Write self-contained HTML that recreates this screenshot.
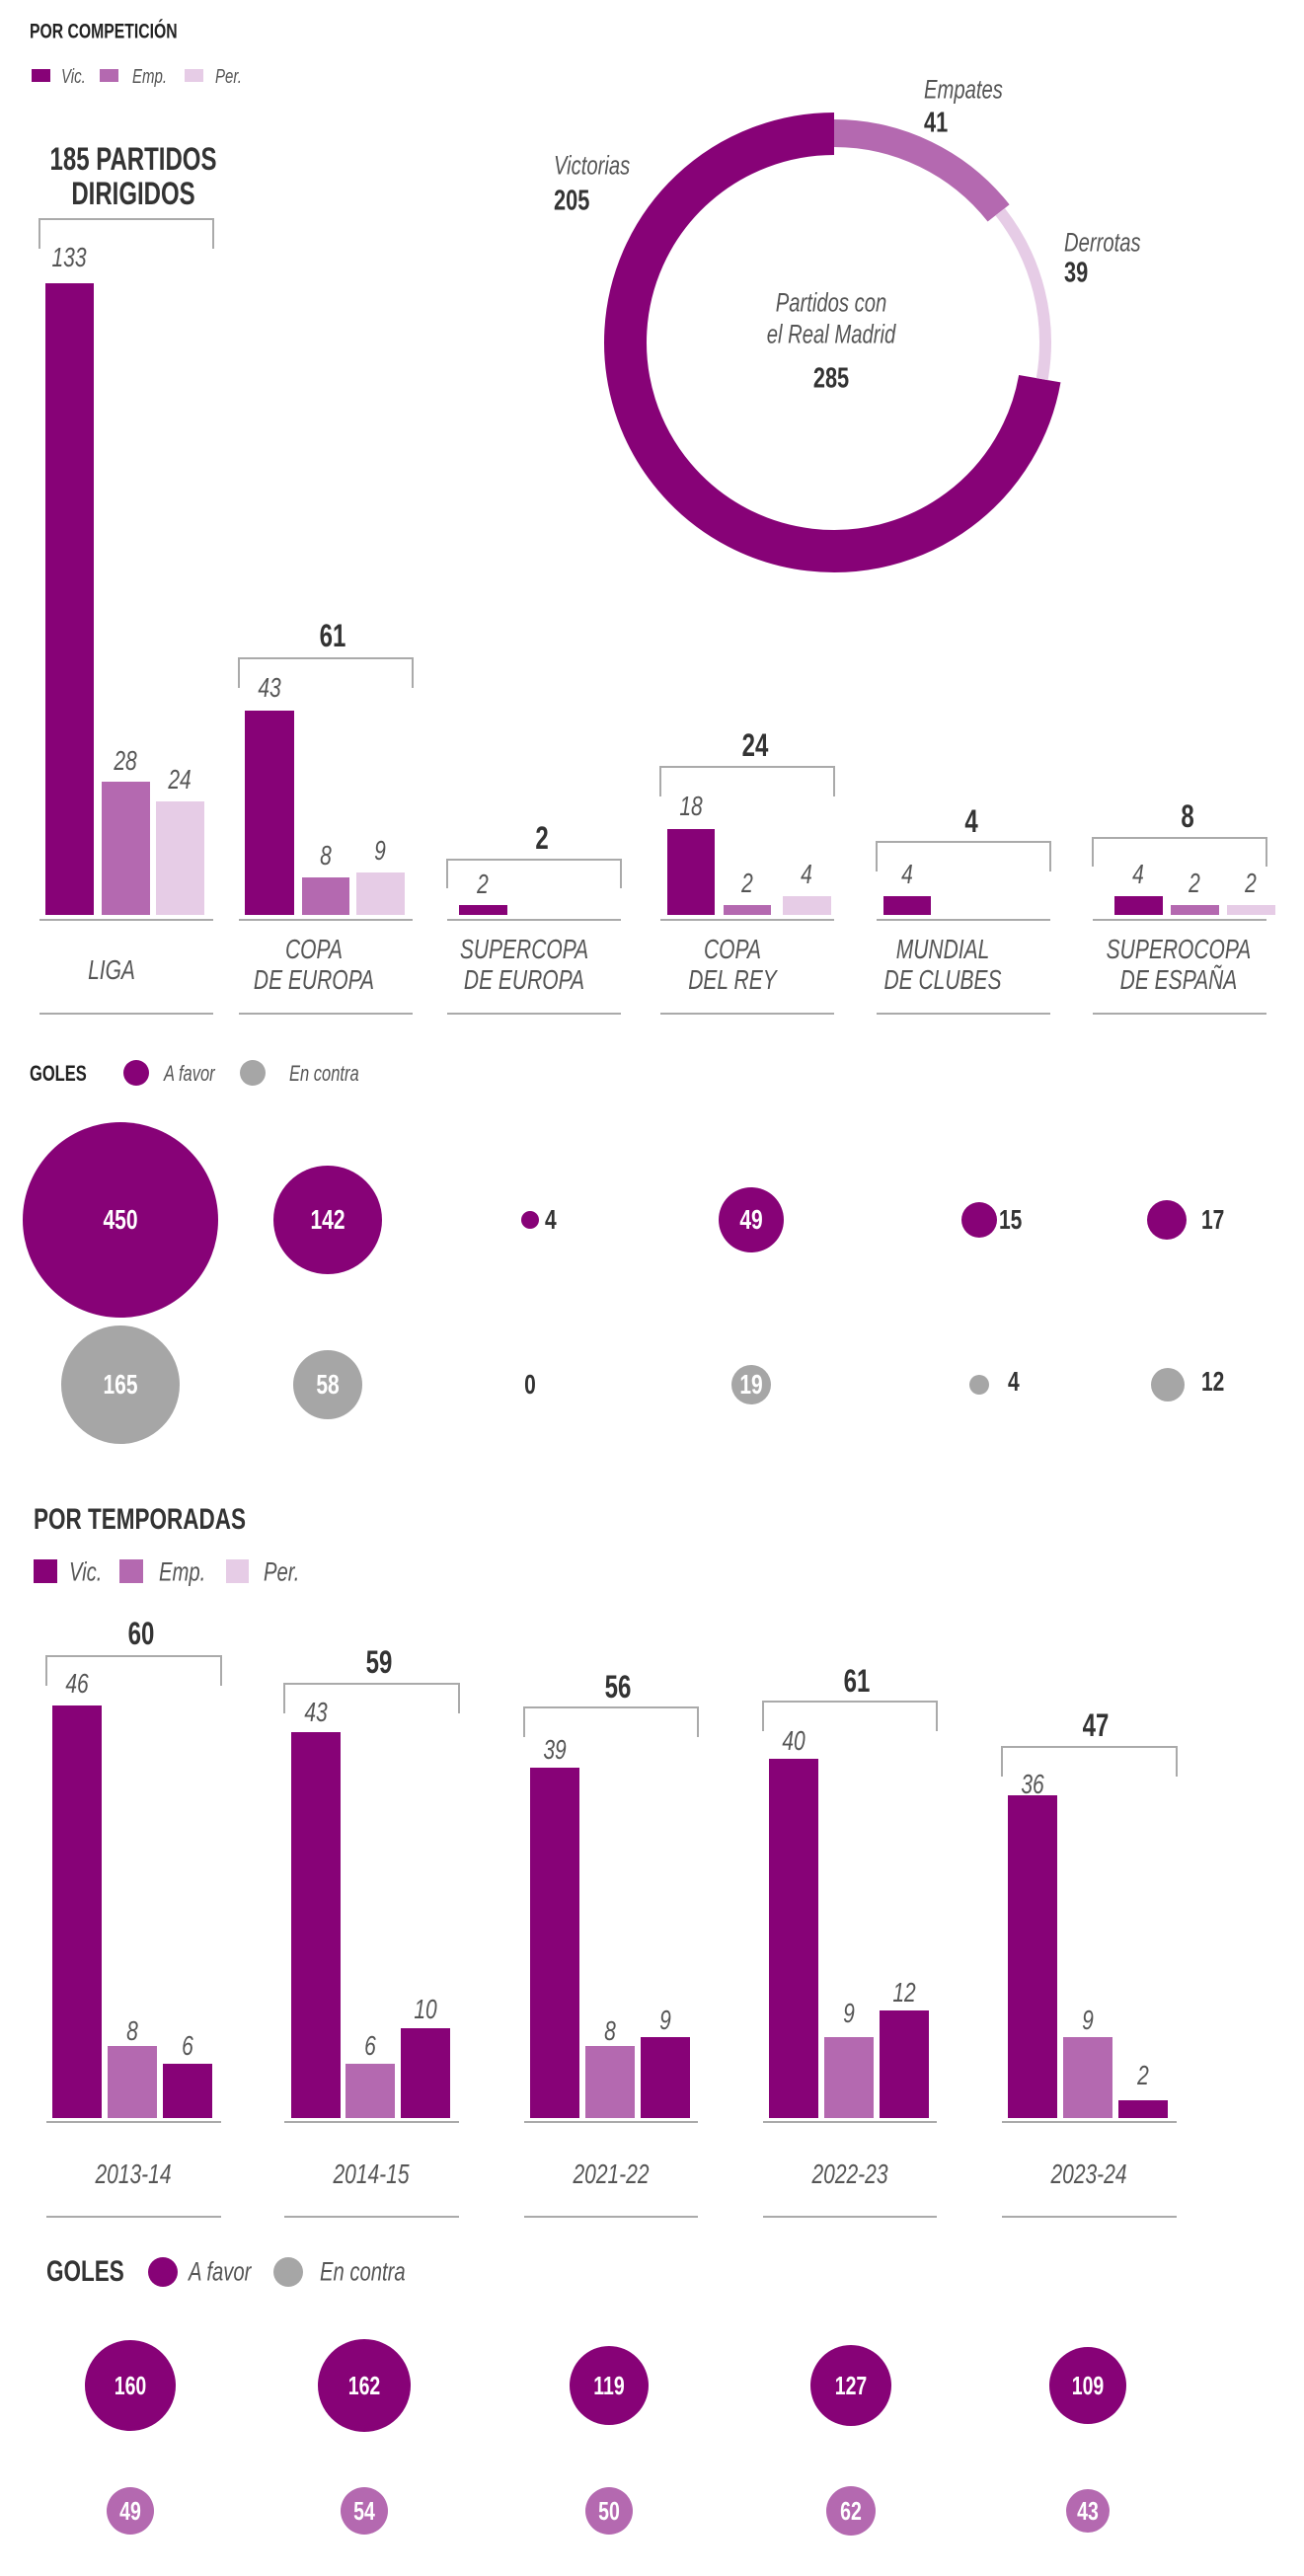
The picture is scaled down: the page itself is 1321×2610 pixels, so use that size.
<!DOCTYPE html>
<html><head><meta charset="utf-8"><style>
body{margin:0;background:#fff}
#w{position:relative;width:1321px;height:2610px;overflow:hidden;background:#fff}
svg{position:absolute;left:0;top:0}
.t{position:absolute;white-space:nowrap;font-family:"Liberation Sans",sans-serif;line-height:1;color:#555}
.c{width:400px;margin-left:-200px;text-align:center;transform:translateY(-50%) scaleX(.75)}
.l{transform-origin:0 50%;transform:translateY(-50%) scaleX(.75)}
.i{font-style:italic}
.b{font-weight:bold;color:#333}
.w{color:#fff;font-weight:bold}
</style></head><body><div id="w">
<svg width="1321" height="2610" viewBox="0 0 1321 2610">
<g fill="none" stroke="#aaa" stroke-width="2">
<!-- top brackets -->
<path d="M40 252V222H216V252"/><path d="M242 697V667H418V697"/><path d="M453 900V871H629V900"/>
<path d="M669 807V777H845V807"/><path d="M888 883V853H1064V883"/><path d="M1107 878V849H1283V878"/>
<path d="M40 932H216M242 932H418M453 932H629M669 932H845M888 932H1064M1107 932H1283"/>
<path d="M40 1027H216M242 1027H418M453 1027H629M669 1027H845M888 1027H1064M1107 1027H1283"/>
<!-- bottom brackets -->
<path d="M47 1708V1678H224V1708"/><path d="M288 1736V1706H465V1736"/><path d="M531 1760V1730H707V1760"/>
<path d="M773 1754V1724H949V1754"/><path d="M1015 1800V1770H1192V1800"/>
<path d="M47 2150H224M288 2150H465M531 2150H707M773 2150H949M1015 2150H1192"/>
<path d="M47 2246H224M288 2246H465M531 2246H707M773 2246H949M1015 2246H1192"/>
</g>
<!-- legend top -->
<rect x="32" y="70" width="19" height="13" fill="#870277"/><rect x="101" y="70" width="19" height="13" fill="#b469b0"/><rect x="187" y="70" width="19" height="13" fill="#e6cce6"/>
<!-- top bars -->
<g fill="#870277"><rect x="46" y="287" width="49" height="640"/><rect x="248" y="720" width="50" height="207"/><rect x="465" y="917" width="49" height="10"/>
<rect x="676" y="840" width="48" height="87"/><rect x="895" y="908" width="48" height="19"/><rect x="1129" y="908" width="49" height="19"/></g>
<g fill="#b469b0"><rect x="103" y="792" width="49" height="135"/><rect x="306" y="889" width="48" height="38"/><rect x="733" y="917" width="48" height="10"/><rect x="1186" y="917" width="49" height="10"/></g>
<g fill="#e6cce6"><rect x="158" y="812" width="49" height="115"/><rect x="361" y="884" width="49" height="43"/><rect x="793" y="908" width="49" height="19"/><rect x="1243" y="917" width="49" height="10"/></g>
<!-- donut -->
<g fill="none">
<path d="M1053.3 383.7A211.5 211.5 0 1 1 845 135.5" stroke="#870277" stroke-width="43"/>
<path d="M845 135A212 212 0 0 1 1011.6 215.9" stroke="#b469b0" stroke-width="28"/>
<path d="M1013.2 214.7A214 214 0 0 1 1055.7 384.2" stroke="#e6cce6" stroke-width="12"/>
</g>
<!-- goles top -->
<circle cx="138" cy="1087" r="13" fill="#870277"/><circle cx="256" cy="1087" r="13" fill="#a6a6a6"/>
<g fill="#870277"><circle cx="122" cy="1236" r="99"/><circle cx="332" cy="1236" r="55"/><circle cx="537" cy="1236" r="9"/><circle cx="761" cy="1236" r="33"/><circle cx="992" cy="1236" r="18"/><circle cx="1182" cy="1236" r="20"/></g>
<g fill="#a6a6a6"><circle cx="122" cy="1403" r="60"/><circle cx="332" cy="1403" r="35"/><circle cx="761" cy="1403" r="20"/><circle cx="992" cy="1403" r="10"/><circle cx="1183" cy="1403" r="17"/></g>
<!-- legend bottom -->
<rect x="34" y="1580" width="24" height="24" fill="#870277"/><rect x="121" y="1580" width="24" height="24" fill="#b469b0"/><rect x="229" y="1580" width="23" height="24" fill="#e6cce6"/>
<!-- bottom bars -->
<g fill="#870277">
<rect x="53" y="1728" width="50" height="418"/><rect x="165" y="2091" width="50" height="55"/>
<rect x="295" y="1755" width="50" height="391"/><rect x="406" y="2055" width="50" height="91"/>
<rect x="537" y="1791" width="50" height="355"/><rect x="649" y="2064" width="50" height="82"/>
<rect x="779" y="1782" width="50" height="364"/><rect x="891" y="2037" width="50" height="109"/>
<rect x="1021" y="1819" width="50" height="327"/><rect x="1133" y="2128" width="50" height="18"/>
</g>
<g fill="#b469b0">
<rect x="109" y="2073" width="50" height="73"/><rect x="350" y="2091" width="50" height="55"/><rect x="593" y="2073" width="50" height="73"/><rect x="835" y="2064" width="50" height="82"/><rect x="1077" y="2064" width="50" height="82"/>
</g>
<circle cx="165" cy="2302" r="15" fill="#870277"/><circle cx="292" cy="2302" r="15" fill="#a6a6a6"/>
<g fill="#870277"><circle cx="132" cy="2417" r="46"/><circle cx="369" cy="2417" r="47"/><circle cx="617" cy="2417" r="40"/><circle cx="862" cy="2417" r="41"/><circle cx="1102" cy="2417" r="39"/></g>
<g fill="#b469b0"><circle cx="132" cy="2544" r="24"/><circle cx="369" cy="2544" r="24"/><circle cx="617" cy="2544" r="24"/><circle cx="862" cy="2544" r="25"/><circle cx="1102" cy="2544" r="22"/></g>
</svg>

<!-- top texts -->
<div class="t l b" style="left:30px;top:32px;font-size:21px;color:#222">POR COMPETICIÓN</div>
<div class="t l i" style="left:62px;top:78px;font-size:20px">Vic.</div>
<div class="t l i" style="left:134px;top:78px;font-size:20px">Emp.</div>
<div class="t l i" style="left:218px;top:78px;font-size:20px">Per.</div>
<div class="t c b" style="left:135px;top:161px;font-size:32px">185 PARTIDOS</div>
<div class="t c b" style="left:135px;top:196px;font-size:32px">DIRIGIDOS</div>
<div class="t c i" style="left:70px;top:261px;font-size:28px">133</div>
<div class="t c i" style="left:127px;top:771px;font-size:28px">28</div>
<div class="t c i" style="left:182px;top:790px;font-size:28px">24</div>
<div class="t c b" style="left:337px;top:644px;font-size:32px">61</div>
<div class="t c i" style="left:273px;top:697px;font-size:28px">43</div>
<div class="t c i" style="left:330px;top:867px;font-size:28px">8</div>
<div class="t c i" style="left:385px;top:862px;font-size:28px">9</div>
<div class="t c b" style="left:549px;top:849px;font-size:32px">2</div>
<div class="t c i" style="left:489px;top:896px;font-size:28px">2</div>
<div class="t c b" style="left:765px;top:755px;font-size:32px">24</div>
<div class="t c i" style="left:700px;top:817px;font-size:28px">18</div>
<div class="t c i" style="left:757px;top:895px;font-size:28px">2</div>
<div class="t c i" style="left:817px;top:886px;font-size:28px">4</div>
<div class="t c b" style="left:984px;top:832px;font-size:32px">4</div>
<div class="t c i" style="left:919px;top:886px;font-size:28px">4</div>
<div class="t c b" style="left:1203px;top:827px;font-size:32px">8</div>
<div class="t c i" style="left:1153px;top:886px;font-size:28px">4</div>
<div class="t c i" style="left:1210px;top:895px;font-size:28px">2</div>
<div class="t c i" style="left:1267px;top:895px;font-size:28px">2</div>
<div class="t c i" style="left:113px;top:983px;font-size:28px">LIGA</div>
<div class="t c i" style="left:318px;top:962px;font-size:28px">COPA</div>
<div class="t c i" style="left:318px;top:993px;font-size:28px">DE EUROPA</div>
<div class="t c i" style="left:531px;top:962px;font-size:28px">SUPERCOPA</div>
<div class="t c i" style="left:531px;top:993px;font-size:28px">DE EUROPA</div>
<div class="t c i" style="left:742px;top:962px;font-size:28px">COPA</div>
<div class="t c i" style="left:742px;top:993px;font-size:28px">DEL REY</div>
<div class="t c i" style="left:955px;top:962px;font-size:28px">MUNDIAL</div>
<div class="t c i" style="left:955px;top:993px;font-size:28px">DE CLUBES</div>
<div class="t c i" style="left:1194px;top:962px;font-size:28px">SUPEROCOPA</div>
<div class="t c i" style="left:1194px;top:993px;font-size:28px">DE ESPAÑA</div>
<!-- donut labels -->
<div class="t l i" style="left:561px;top:168px;font-size:27px">Victorias</div>
<div class="t l b" style="left:561px;top:204px;font-size:29px">205</div>
<div class="t l i" style="left:936px;top:91px;font-size:27px">Empates</div>
<div class="t l b" style="left:936px;top:125px;font-size:29px">41</div>
<div class="t l i" style="left:1078px;top:246px;font-size:27px">Derrotas</div>
<div class="t l b" style="left:1078px;top:277px;font-size:29px">39</div>
<div class="t c i" style="left:842px;top:307px;font-size:27px">Partidos con</div>
<div class="t c i" style="left:842px;top:339px;font-size:27px">el Real Madrid</div>
<div class="t c b" style="left:842px;top:384px;font-size:29px">285</div>
<!-- goles top -->
<div class="t l b" style="left:30px;top:1088px;font-size:22px;color:#222">GOLES</div>
<div class="t l i" style="left:166px;top:1088px;font-size:22px">A favor</div>
<div class="t l i" style="left:293px;top:1088px;font-size:22px">En contra</div>
<div class="t c w" style="left:122px;top:1236px;font-size:28px">450</div>
<div class="t c w" style="left:332px;top:1236px;font-size:28px">142</div>
<div class="t l b" style="left:552px;top:1236px;font-size:28px">4</div>
<div class="t c w" style="left:761px;top:1236px;font-size:28px">49</div>
<div class="t l b" style="left:1012px;top:1236px;font-size:28px">15</div>
<div class="t l b" style="left:1217px;top:1236px;font-size:28px">17</div>
<div class="t c w" style="left:122px;top:1403px;font-size:28px">165</div>
<div class="t c w" style="left:332px;top:1403px;font-size:28px">58</div>
<div class="t c b" style="left:537px;top:1403px;font-size:28px">0</div>
<div class="t c w" style="left:761px;top:1403px;font-size:28px">19</div>
<div class="t l b" style="left:1021px;top:1400px;font-size:28px">4</div>
<div class="t l b" style="left:1217px;top:1400px;font-size:28px">12</div>
<!-- bottom -->
<div class="t l b" style="left:34px;top:1540px;font-size:30px">POR TEMPORADAS</div>
<div class="t l i" style="left:70px;top:1593px;font-size:27px">Vic.</div>
<div class="t l i" style="left:161px;top:1593px;font-size:27px">Emp.</div>
<div class="t l i" style="left:267px;top:1593px;font-size:27px">Per.</div>
<div class="t c b" style="left:143px;top:1655px;font-size:32px">60</div>
<div class="t c b" style="left:384px;top:1684px;font-size:32px">59</div>
<div class="t c b" style="left:626px;top:1709px;font-size:32px">56</div>
<div class="t c b" style="left:868px;top:1703px;font-size:32px">61</div>
<div class="t c b" style="left:1110px;top:1748px;font-size:32px">47</div>
<div class="t c i" style="left:78px;top:1706px;font-size:28px">46</div>
<div class="t c i" style="left:134px;top:2058px;font-size:28px">8</div>
<div class="t c i" style="left:190px;top:2073px;font-size:28px">6</div>
<div class="t c i" style="left:320px;top:1735px;font-size:28px">43</div>
<div class="t c i" style="left:375px;top:2073px;font-size:28px">6</div>
<div class="t c i" style="left:431px;top:2036px;font-size:28px">10</div>
<div class="t c i" style="left:562px;top:1773px;font-size:28px">39</div>
<div class="t c i" style="left:618px;top:2058px;font-size:28px">8</div>
<div class="t c i" style="left:674px;top:2047px;font-size:28px">9</div>
<div class="t c i" style="left:804px;top:1764px;font-size:28px">40</div>
<div class="t c i" style="left:860px;top:2040px;font-size:28px">9</div>
<div class="t c i" style="left:916px;top:2019px;font-size:28px">12</div>
<div class="t c i" style="left:1046px;top:1808px;font-size:28px">36</div>
<div class="t c i" style="left:1102px;top:2047px;font-size:28px">9</div>
<div class="t c i" style="left:1158px;top:2103px;font-size:28px">2</div>
<div class="t c i" style="left:135px;top:2203px;font-size:28px">2013-14</div>
<div class="t c i" style="left:376px;top:2203px;font-size:28px">2014-15</div>
<div class="t c i" style="left:619px;top:2203px;font-size:28px">2021-22</div>
<div class="t c i" style="left:861px;top:2203px;font-size:28px">2022-23</div>
<div class="t c i" style="left:1103px;top:2203px;font-size:28px">2023-24</div>
<div class="t l b" style="left:47px;top:2302px;font-size:30px">GOLES</div>
<div class="t l i" style="left:191px;top:2302px;font-size:27px">A favor</div>
<div class="t l i" style="left:324px;top:2302px;font-size:27px">En contra</div>
<div class="t c w" style="left:132px;top:2417px;font-size:26px">160</div>
<div class="t c w" style="left:369px;top:2417px;font-size:26px">162</div>
<div class="t c w" style="left:617px;top:2417px;font-size:26px">119</div>
<div class="t c w" style="left:862px;top:2417px;font-size:26px">127</div>
<div class="t c w" style="left:1102px;top:2417px;font-size:26px">109</div>
<div class="t c w" style="left:132px;top:2544px;font-size:26px">49</div>
<div class="t c w" style="left:369px;top:2544px;font-size:26px">54</div>
<div class="t c w" style="left:617px;top:2544px;font-size:26px">50</div>
<div class="t c w" style="left:862px;top:2544px;font-size:26px">62</div>
<div class="t c w" style="left:1102px;top:2544px;font-size:26px">43</div>
</div></body></html>
